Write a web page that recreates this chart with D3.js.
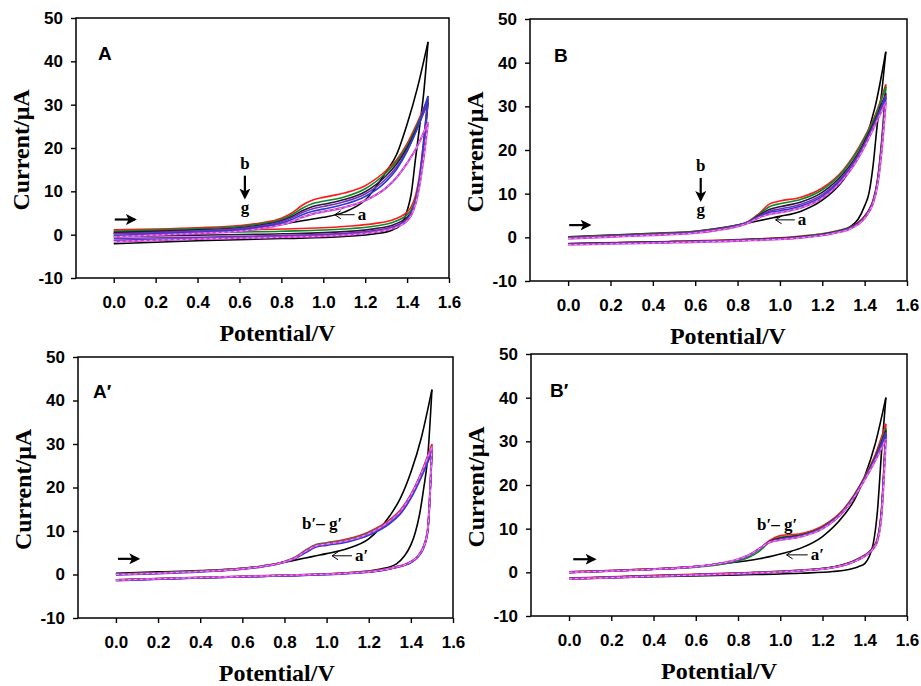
<!DOCTYPE html>
<html>
<head>
<meta charset="utf-8">
<script src="https://cdn.jsdelivr.net/npm/d3@7/dist/d3.min.js"></script>
<style>
  body { margin: 0; background: #ffffff; }
  .tick text { font-family: "Liberation Sans", Arial, sans-serif; font-weight: bold; font-size: 17px; fill: #000; }
  .tick line { stroke: #000; stroke-width: 1.4px; }
  .title { font-family: "Liberation Serif", "Times New Roman", serif; font-weight: bold; font-size: 24px; }
  .note { font-family: "Liberation Serif", "Times New Roman", serif; font-weight: bold; font-size: 17px; }
  .plabel { font-family: "Liberation Sans", Arial, sans-serif; font-weight: bold; font-size: 19px; }
</style>
</head>
<body>
<div class="main"></div>
<script>
// potentials (V) sampled on the forward sweep and on the reverse sweep
let forwardV = [0, 0.2, 0.4, 0.6, 0.7, 0.8, 0.85, 0.9, 0.95, 1.0, 1.1, 1.2, 1.3, 1.35, 1.4, 1.45, 1.5];
let reverseV = [1.5, 1.48, 1.46, 1.44, 1.42, 1.4, 1.37, 1.33, 1.25, 1.1, 0.8, 0.4, 0];

let xTicks = [0.0, 0.2, 0.4, 0.6, 0.8, 1.0, 1.2, 1.4, 1.6];
let yTicks = [-10, 0, 10, 20, 30, 40, 50];

let curveNames = ["a", "b", "c", "d", "e", "f", "g"];
let curveColors = ["#000000", "#ff1a1a", "#0a8a2a", "#2a1638", "#7a2fb0", "#2a3ad6", "#c93ccf"];

// current (µA), one row per curve a..g
let A_forward = [
  [0.4, 0.7, 1.0, 1.4, 1.8, 2.4, 2.8, 3.2, 3.6, 4.0, 5.2, 8.0, 14.5, 18.5, 25.5, 34.0, 44.5],
  [1.1, 1.3, 1.6, 2.1, 2.7, 3.8, 5.0, 6.8, 8.0, 8.6, 9.6, 11.3, 14.8, 17.3, 21.0, 26.0, 31.5],
  [0.8, 1.1, 1.4, 1.9, 2.5, 3.5, 4.6, 6.1, 7.2, 7.7, 8.7, 10.6, 14.3, 16.9, 20.5, 25.5, 31.0],
  [0.5, 0.8, 1.1, 1.6, 2.2, 3.2, 4.2, 5.5, 6.5, 7.0, 8.1, 9.9, 13.6, 16.3, 20.0, 25.0, 30.5],
  [0.2, 0.5, 0.9, 1.4, 2.0, 3.0, 3.9, 5.1, 6.0, 6.5, 7.6, 9.4, 12.9, 15.6, 19.4, 24.6, 31.0],
  [-0.2, 0.2, 0.6, 1.1, 1.7, 2.7, 3.5, 4.6, 5.4, 5.9, 7.0, 8.8, 12.3, 15.1, 19.2, 24.8, 32.0],
  [-0.5, -0.1, 0.3, 0.8, 1.4, 2.3, 3.0, 4.0, 4.8, 5.3, 6.3, 7.9, 10.8, 13.2, 16.5, 20.5, 26.0]
];
let A_reverse = [
  [44.5, 33, 25, 17.5, 9.5, 5.5, 2.3, 1.1, 0.2, -0.4, -0.9, -1.4, -2.1],
  [31.5, 22, 14, 9.0, 6.5, 5.2, 4.2, 3.4, 2.6, 1.9, 1.3, 1.0, 0.7],
  [31.0, 21, 13, 8.2, 5.8, 4.6, 3.6, 2.8, 2.0, 1.3, 0.8, 0.5, 0.2],
  [30.5, 20, 12, 7.5, 5.2, 4.0, 3.0, 2.2, 1.4, 0.7, 0.2, -0.1, -0.4],
  [31.0, 21, 12.5, 7.5, 5.0, 3.6, 2.6, 1.8, 1.0, 0.3, -0.2, -0.6, -0.9],
  [32.0, 22, 13, 7.8, 5.0, 3.5, 2.4, 1.5, 0.7, 0.0, -0.5, -0.9, -1.3],
  [26.0, 18, 11.5, 7.0, 4.5, 3.2, 2.2, 1.4, 0.6, -0.1, -0.6, -1.0, -1.6]
];

let B_forward = [
  [0.1, 0.5, 0.9, 1.4, 2.0, 2.8, 3.3, 3.8, 4.3, 4.8, 6.0, 8.5, 13.2, 17.0, 22.0, 30.0, 42.5],
  [0.0, 0.4, 0.8, 1.3, 1.9, 2.8, 3.6, 5.4, 7.6, 8.3, 9.2, 11.3, 15.5, 18.8, 23.0, 28.0, 35.0],
  [0.0, 0.4, 0.8, 1.3, 1.9, 2.8, 3.6, 5.2, 7.0, 7.7, 8.7, 10.9, 15.2, 18.5, 22.7, 27.7, 34.5],
  [-0.1, 0.3, 0.7, 1.2, 1.8, 2.7, 3.5, 5.0, 6.4, 7.0, 8.1, 10.3, 14.6, 17.8, 22.0, 27.0, 33.0],
  [-0.1, 0.3, 0.7, 1.2, 1.8, 2.7, 3.5, 4.8, 6.0, 6.5, 7.6, 9.8, 14.1, 17.3, 21.5, 26.5, 32.5],
  [-0.2, 0.2, 0.6, 1.1, 1.7, 2.6, 3.4, 4.7, 5.7, 6.1, 7.2, 9.4, 13.8, 17.0, 21.2, 26.2, 32.0],
  [-0.3, 0.1, 0.5, 1.0, 1.6, 2.5, 3.3, 4.5, 5.3, 5.7, 6.8, 9.0, 13.4, 16.6, 20.8, 25.8, 31.0]
];
let B_reverse = [
  [42.5, 33, 26, 16.5, 10, 7.2, 4.2, 2.4, 1.0, 0.1, -0.6, -1.1, -1.5],
  [35, 22, 13, 8.5, 6.3, 4.9, 3.4, 2.3, 1.3, 0.3, -0.5, -1.0, -1.4],
  [34.5, 21.5, 12.8, 8.4, 6.2, 4.8, 3.3, 2.3, 1.2, 0.2, -0.6, -1.1, -1.5],
  [33, 21, 12.5, 8.2, 6.1, 4.7, 3.3, 2.2, 1.1, 0.1, -0.6, -1.1, -1.5],
  [32.5, 20.5, 12.3, 8.1, 6.0, 4.6, 3.2, 2.1, 1.0, 0.0, -0.7, -1.2, -1.6],
  [32, 20, 12, 8.0, 5.9, 4.5, 3.1, 2.0, 1.0, 0.0, -0.7, -1.2, -1.6],
  [31, 19.5, 11.8, 7.8, 5.8, 4.4, 3.0, 1.9, 0.9, -0.1, -0.8, -1.3, -1.7]
];

let A2_forward = [
  [0.3, 0.6, 0.9, 1.4, 1.9, 2.8, 3.3, 3.8, 4.3, 4.8, 6.0, 8.2, 13.5, 17.5, 23.5, 31.5, 42.5],
  [0.1, 0.4, 0.8, 1.4, 2.0, 3.0, 4.0, 5.6, 6.9, 7.3, 8.2, 9.8, 12.6, 14.8, 18.4, 23.5, 30.0],
  [0.1, 0.4, 0.8, 1.4, 2.0, 3.0, 3.9, 5.5, 6.8, 7.2, 8.0, 9.6, 12.4, 14.6, 18.2, 23.3, 29.5],
  [0.0, 0.3, 0.7, 1.3, 1.9, 2.9, 3.8, 5.3, 6.6, 7.0, 7.8, 9.4, 12.2, 14.4, 18.0, 23.0, 29.0],
  [0.0, 0.3, 0.7, 1.3, 1.9, 2.9, 3.8, 5.2, 6.5, 6.9, 7.7, 9.3, 12.0, 14.2, 17.8, 22.8, 28.5],
  [-0.1, 0.2, 0.6, 1.2, 1.8, 2.8, 3.7, 5.0, 6.3, 6.7, 7.5, 9.0, 11.7, 13.9, 17.5, 22.4, 28.0],
  [0.0, 0.3, 0.7, 1.3, 1.9, 2.9, 3.8, 5.3, 6.6, 7.0, 7.8, 9.4, 12.3, 14.5, 18.2, 23.3, 29.5]
];
let A2_reverse = [
  [42.5, 27, 19.5, 13.5, 9.5, 6.8, 4.3, 2.4, 1.2, 0.4, -0.2, -0.7, -1.3],
  [30, 10.5, 6.5, 4.7, 3.6, 3.0, 2.3, 1.8, 1.0, 0.4, -0.2, -0.7, -1.2],
  [29.5, 10.3, 6.4, 4.6, 3.6, 2.9, 2.2, 1.7, 0.9, 0.3, -0.2, -0.7, -1.2],
  [29, 10.1, 6.3, 4.5, 3.5, 2.9, 2.2, 1.7, 0.9, 0.3, -0.3, -0.8, -1.3],
  [28.5, 10, 6.2, 4.5, 3.5, 2.8, 2.1, 1.6, 0.8, 0.3, -0.3, -0.8, -1.3],
  [28, 9.8, 6.0, 4.4, 3.4, 2.7, 2.1, 1.6, 0.8, 0.2, -0.3, -0.8, -1.4],
  [29.5, 10.2, 6.3, 4.6, 3.6, 2.9, 2.2, 1.7, 0.9, 0.3, -0.2, -0.7, -1.3]
];

let B2_forward = [
  [0.1, 0.4, 0.8, 1.3, 1.8, 2.4, 2.7, 3.1, 3.6, 4.2, 5.6, 8.2, 13.0, 16.5, 22.0, 29.5, 40.0],
  [0.1, 0.4, 0.8, 1.3, 1.9, 2.9, 3.8, 5.3, 7.3, 8.4, 8.9, 10.6, 14.5, 17.8, 22.0, 27.0, 34.0],
  [0.0, 0.3, 0.7, 1.2, 1.7, 2.6, 3.4, 4.8, 7.0, 8.0, 8.6, 10.4, 14.3, 17.6, 21.8, 26.6, 33.0],
  [0.0, 0.3, 0.7, 1.3, 1.9, 2.9, 3.8, 5.3, 7.1, 7.8, 8.5, 10.3, 14.2, 17.5, 21.6, 26.4, 32.5],
  [0.0, 0.3, 0.7, 1.3, 1.9, 2.9, 3.9, 5.4, 7.0, 7.6, 8.4, 10.2, 14.2, 17.4, 21.5, 26.2, 32.0],
  [0.0, 0.3, 0.7, 1.3, 1.9, 2.9, 3.8, 5.3, 6.9, 7.5, 8.3, 10.1, 14.0, 17.3, 21.4, 26.0, 31.5],
  [0.0, 0.3, 0.7, 1.3, 1.9, 3.0, 3.9, 5.4, 6.9, 7.4, 8.2, 10.0, 14.0, 17.2, 21.2, 25.6, 30.5]
];
let B2_reverse = [
  [40, 28, 14, 6.5, 3.5, 2.0, 1.3, 0.7, 0.2, -0.2, -0.6, -1.0, -1.5],
  [34, 15, 7.8, 5.8, 4.7, 4.0, 3.2, 2.3, 1.2, 0.5, -0.1, -0.7, -1.3],
  [33, 14.6, 7.6, 5.7, 4.6, 3.9, 3.1, 2.2, 1.2, 0.5, -0.2, -0.8, -1.4],
  [32.5, 14.3, 7.5, 5.6, 4.5, 3.8, 3.0, 2.2, 1.2, 0.4, -0.2, -0.8, -1.4],
  [32, 14, 7.4, 5.5, 4.5, 3.8, 3.0, 2.1, 1.1, 0.4, -0.2, -0.8, -1.4],
  [31.5, 13.7, 7.3, 5.4, 4.4, 3.7, 2.9, 2.1, 1.1, 0.4, -0.3, -0.9, -1.5],
  [30.5, 13.4, 7.2, 5.4, 4.4, 3.7, 2.9, 2.1, 1.1, 0.4, -0.3, -0.9, -1.5]
];

let width = 921, height = 686;

let svg = d3.select("div.main").append("svg")
  .attr("width", width)
  .attr("height", height)
  .style("background-color", "#ffffff");

svg.append("defs").append("marker")
  .attr("id", "head")
  .attr("viewBox", "0 0 10 10")
  .attr("refX", 8).attr("refY", 5)
  .attr("markerWidth", 5).attr("markerHeight", 5)
  .attr("orient", "auto")
  .append("path")
  .attr("d", "M0,0 L10,5 L0,10 L2.5,5 Z")
  .attr("fill", "#000");

// frame of each panel in pixels, and where its texts sit
let panels = [
  { name: "A", left: 76, top: 18, right: 449, bottom: 278, fwd: A_forward, rev: A_reverse,
    titleX: 0.54, labelDx: 22, labelDy: 42, peakNote: "bg",
    start: [0.005, 0.1, 3.5], back: [1.055, 1.15, 4.6], backText: "a" },
  { name: "B", left: 530, top: 19, right: 907, bottom: 281, fwd: B_forward, rev: B_reverse,
    titleX: 0.525, labelDx: 24, labelDy: 43, peakNote: "bg",
    start: [0.005, 0.1, 2.8], back: [0.98, 1.07, 4.0], backText: "a" },
  { name: "A\u2032", left: 78, top: 357, right: 453, bottom: 618, fwd: A2_forward, rev: A2_reverse,
    titleX: 0.53, labelDx: 15, labelDy: 41, peakNote: "b\u2032\u2013 g\u2032", notePos: [0.883, 10.5],
    start: [0.01, 0.105, 3.6], back: [1.026, 1.12, 4.3], backText: "a\u2032" },
  { name: "B\u2032", left: 531, top: 354, right: 907, bottom: 616, fwd: B2_forward, rev: B2_reverse,
    titleX: 0.50, labelDx: 19, labelDy: 43, peakNote: "b\u2032\u2013 g\u2032", notePos: [0.89, 9.7],
    start: [0.02, 0.12, 3.0], back: [1.03, 1.13, 4.0], backText: "a\u2032" }
];

panels.forEach(drawPanel);

function drawPanel(p) {
  let x = d3.scaleLinear().domain([-0.18, 1.6]).range([p.left, p.right]);
  let y = d3.scaleLinear().domain([-10, 50]).range([p.bottom, p.top]);
  let g = svg.append("g");

  let line = d3.line()
    .x(d => x(d[0]))
    .y(d => y(d[1]))
    .curve(d3.curveMonotoneX);

  // voltammograms: forward and reverse branch of each curve
  p.fwd.forEach(function(cur, i) {
    let fw = forwardV.map((v, k) => [v, cur[k]]);
    let rv = reverseV.map((v, k) => [v, p.rev[i][k]]).reverse();
    [fw, rv].forEach(function(pts) {
      g.append("path")
        .attr("d", line(pts))
        .attr("fill", "none")
        .attr("stroke", curveColors[i])
        .attr("stroke-width", i == 6 ? 2.1 : 1.6)
        .attr("class", "curve-" + curveNames[i]);
      // curve g carries a pale dashed core, as in the original plot
      if (i == 6) {
        g.append("path")
          .attr("d", line(pts))
          .attr("fill", "none")
          .attr("stroke", "#f6c8f6")
          .attr("stroke-width", 0.7)
          .attr("stroke-dasharray", "3,3");
      }
    });
  });

  // frame
  g.append("rect")
    .attr("x", p.left).attr("y", p.top)
    .attr("width", p.right - p.left).attr("height", p.bottom - p.top)
    .attr("fill", "none").attr("stroke", "#000").attr("stroke-width", 1.5);

  g.append("g")
    .attr("transform", "translate(0," + p.bottom + ")")
    .call(d3.axisBottom(x).tickValues(xTicks).tickFormat(d3.format(".1f")).tickSize(5).tickPadding(13))
    .call(a => a.select(".domain").remove());

  g.append("g")
    .attr("transform", "translate(" + p.left + ",0)")
    .call(d3.axisLeft(y).tickValues(yTicks).tickFormat(d => String(d)).tickSize(5).tickPadding(8))
    .call(a => a.select(".domain").remove());

  // axis titles
  g.append("text")
    .attr("class", "title")
    .attr("x", p.left + (p.right - p.left) * p.titleX)
    .attr("y", p.bottom + 63)
    .attr("text-anchor", "middle")
    .text("Potential/V");

  g.append("text")
    .attr("class", "title")
    .attr("transform", "translate(" + (p.left - 47) + "," + ((p.top + p.bottom) / 2 + 2) + ") rotate(-90)")
    .attr("text-anchor", "middle")
    .text("Current/\u03bcA");

  // panel letter
  g.append("text")
    .attr("class", "plabel")
    .attr("x", p.left + p.labelDx)
    .attr("y", p.top + p.labelDy)
    .text(p.name);

  // scan direction arrow
  g.append("line")
    .attr("x1", x(p.start[0])).attr("x2", x(p.start[1]))
    .attr("y1", y(p.start[2])).attr("y2", y(p.start[2]))
    .attr("stroke", "#000").attr("stroke-width", 2.2)
    .attr("marker-end", "url(#head)");

  // thin arrow pointing to curve a
  let bx0 = x(p.back[0]), bx1 = x(p.back[1]), by = y(p.back[2]);
  g.append("path")
    .attr("d", "M" + bx1 + "," + by + " L" + bx0 + "," + by +
               " M" + (bx0 + 6) + "," + (by - 4) + " L" + bx0 + "," + by + " L" + (bx0 + 6) + "," + (by + 4))
    .attr("fill", "none").attr("stroke", "#000").attr("stroke-width", 1);
  g.append("text")
    .attr("class", "note")
    .attr("x", bx1 + 3)
    .attr("y", by + 5)
    .text(p.backText);

  if (p.peakNote === "bg") {
    let cx = x(0.626);
    g.append("text").attr("class", "note").attr("x", cx).attr("y", y(15.2))
      .attr("text-anchor", "middle").text("b");
    g.append("line")
      .attr("x1", cx).attr("x2", cx)
      .attr("y1", y(13.6)).attr("y2", y(8.6))
      .attr("stroke", "#000").attr("stroke-width", 2.2)
      .attr("marker-end", "url(#head)");
    g.append("text").attr("class", "note").attr("x", cx).attr("y", y(5.1))
      .attr("text-anchor", "middle").text("g");
  } else {
    g.append("text").attr("class", "note")
      .attr("x", x(p.notePos[0])).attr("y", y(p.notePos[1]))
      .text(p.peakNote);
  }
}
</script>
</body>
</html>
